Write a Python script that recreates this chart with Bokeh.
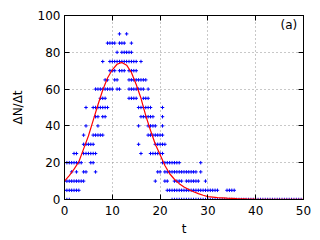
from bokeh.plotting import figure
from bokeh.models import LinearAxis, Range1d, FixedTicker, Label
from bokeh.embed import file_html
from bokeh.resources import INLINE

# ---- data: t values of the measured points in each ΔN/Δt row ----
t_at_90 = [11.5, 13]
t_at_85 = [9, 9.5, 10, 10.5, 11.5, 12, 12.5, 14]
t_at_80 = [11, 12, 12.5, 13, 13.5, 14]
t_at_75 = [8, 9.5, 10, 10.5, 11, 11.5, 12, 12.5, 13, 13.5, 14, 14.5, 15, 16]
t_at_70 = [9.5, 10, 10.5, 11.5, 12, 12.5, 13.5, 14, 14.5, 15]
t_at_65 = [8.5, 9, 10.5, 11, 13.5, 14, 14.5, 15, 15.5, 16, 16.5, 17]
t_at_60 = [6.5, 7, 7.5, 8, 8.5, 9, 9.5, 10, 11, 11.5, 13.5, 14, 14.5, 15, 15.5, 16, 16.5, 17.5]
t_at_55 = [7.5, 8, 8.5, 13.5, 14, 14.5, 15, 16.5, 17, 17.5]
t_at_50 = [4.5, 6, 6.5, 7, 7.5, 8, 8.5, 9, 15.5, 16, 16.5, 17, 17.5, 18, 20.5]
t_at_45 = [6.5, 7, 8, 8.5, 16, 16.5, 17, 17.5, 18, 18.5, 20.5]
t_at_40 = [4.5, 7, 15.5, 17.5, 18, 18.5, 19, 20.5]
t_at_35 = [4, 6, 6.5, 7, 7.5, 8, 17.5, 18, 18.5, 19, 19.5, 20, 20.5]
t_at_30 = [4, 4.5, 5, 5.5, 6, 15.5, 19, 19.5, 20, 20.5, 21]
t_at_25 = [2, 2.5, 4, 4.5, 5, 5.5, 6, 6.5, 16, 18, 18.5, 19, 19.5, 20, 20.5]
t_at_20 = [0.5, 1, 1.5, 2, 2.5, 3, 3.5, 5.5, 6, 20.5, 21, 21.5, 22, 22.5, 23, 23.5, 24, 28.5]
t_at_15 = [1.5, 2.5, 4, 4.5, 6.5, 19.5, 20, 21, 21.5, 22, 22.5, 23, 23.5, 24, 24.5,
           25, 25.5, 26, 26.5, 27, 27.5, 28.5]
t_at_10 = [0, 0.5, 1, 1.5, 2, 2.5, 3, 3.5, 4, 19, 21, 21.5, 23, 23.5, 24, 24.5,
           25.5, 26, 26.5, 27, 27.5, 28, 29.5]
t_at_5 = [0, 0.5, 1, 1.5, 2, 2.5, 3, 21.5, 22, 22.5, 23, 23.5, 24, 24.5, 25, 25.5,
          26, 26.5, 27, 27.5, 28, 28.5, 29, 29.5, 30, 30.5, 31, 31.5, 32, 34, 34.5, 35, 35.5]
t_at_0 = [0.5, 1, 22.5, 23, 23.5, 24, 24.5, 25, 25.5, 26, 26.5, 27, 27.5, 28, 28.5,
          29, 29.5, 30, 30.5, 31, 31.5, 32, 32.5, 33, 33.5, 34, 34.5, 35, 35.5, 36,
          36.5, 37, 37.5, 38, 38.5, 39, 39.5, 40, 40.5, 41, 41.5, 42, 42.5, 43, 43.5,
          44, 44.5, 45, 45.5, 46, 46.5, 47, 47.5, 48, 48.5, 49, 49.5, 50]

row_values = [90, 85, 80, 75, 70, 65, 60, 55, 50, 45, 40, 35, 30, 25, 20, 15, 10, 5, 0]
row_times = [t_at_90, t_at_85, t_at_80, t_at_75, t_at_70, t_at_65, t_at_60, t_at_55,
             t_at_50, t_at_45, t_at_40, t_at_35, t_at_30, t_at_25, t_at_20, t_at_15,
             t_at_10, t_at_5, t_at_0]

# ---- fitted curve ----
curve_t = [0, 1, 2, 3, 4, 5, 6, 7, 8, 9, 10, 11, 12, 13, 14, 15, 16, 17, 18, 19, 20,
           21, 22, 23, 24, 25, 26, 27, 28, 29, 30, 32, 34, 36, 38, 40, 45, 50]
curve_y = [10, 13, 16.5, 20.5, 27.5, 34.5, 43, 51.5, 59.5, 66, 70.5, 73.5, 74.5, 73,
           69, 62.5, 55, 45.6, 37.5, 30, 24.3, 18.5, 14, 11, 8.6, 6.8, 5.4, 4.2, 3.2,
           2.3, 1.6, 1.0, 0.7, 0.5, 0.35, 0.25, 0.1, 0.05]

x_ticks = [0, 10, 20, 30, 40, 50]
y_ticks = [0, 20, 40, 60, 80, 100]
x_grid = [10, 20, 30, 40]
y_grid = [20, 40, 60, 80]

pts_t, pts_y = [], []
for yv, ts in zip(row_values, row_times):
    pts_t.extend(ts)
    pts_y.extend([yv] * len(ts))

FONT = "DejaVu Sans"
FS = "12px"

p = figure(width=318, height=238, x_range=Range1d(0, 50), y_range=Range1d(0, 100),
           output_backend="svg", toolbar_location=None,
           min_border_left=64, min_border_right=15, min_border_top=15, min_border_bottom=39)
p.background_fill_color = "white"
p.border_fill_color = "white"
p.outline_line_color = "black"
p.outline_line_width = 1

for ax, ticks in ((p.xaxis[0], x_ticks), (p.yaxis[0], y_ticks)):
    ax.ticker = FixedTicker(ticks=ticks)
    ax.major_tick_in = 5
    ax.major_tick_out = 0
    ax.minor_tick_line_color = None
    ax.axis_line_color = "black"
    ax.major_tick_line_color = "black"
    ax.major_label_text_font = FONT
    ax.major_label_text_font_size = FS
    ax.major_label_text_color = "black"
    ax.axis_label_text_font = FONT
    ax.axis_label_text_font_size = FS
    ax.axis_label_text_font_style = "normal"
    ax.axis_label_text_color = "black"

p.xaxis.axis_label = "t"
p.xaxis.major_label_standoff = 6
p.xaxis.axis_label_standoff = 4
p.yaxis.axis_label = "ΔN/Δt"
p.yaxis.major_label_standoff = 4
p.yaxis.axis_label_standoff = 10

for loc, ticks in (("above", x_ticks), ("right", y_ticks)):
    ax = LinearAxis(ticker=FixedTicker(ticks=ticks), major_tick_in=5, major_tick_out=0,
                    minor_tick_line_color=None, major_label_text_color=None,
                    major_label_standoff=0, axis_line_color="black")
    p.add_layout(ax, loc)

p.xgrid.ticker = FixedTicker(ticks=x_grid)
p.ygrid.ticker = FixedTicker(ticks=y_grid)
for g in (p.xgrid[0], p.ygrid[0]):
    g.grid_line_color = "#909090"
    g.grid_line_dash = "1 3"
    g.grid_line_width = 1

p.scatter(pts_t, pts_y, marker="cross", size=3.5, line_color="#0000ff", line_width=1)
p.line(curve_t, curve_y, line_color="#ff0000", line_width=1.2)

p.add_layout(Label(x=48.7, y=94.6, text="(a)", text_align="right", text_baseline="middle",
                   text_font=FONT, text_font_size=FS, text_color="black"))

open("out.html", "w").write(file_html(p, INLINE))
